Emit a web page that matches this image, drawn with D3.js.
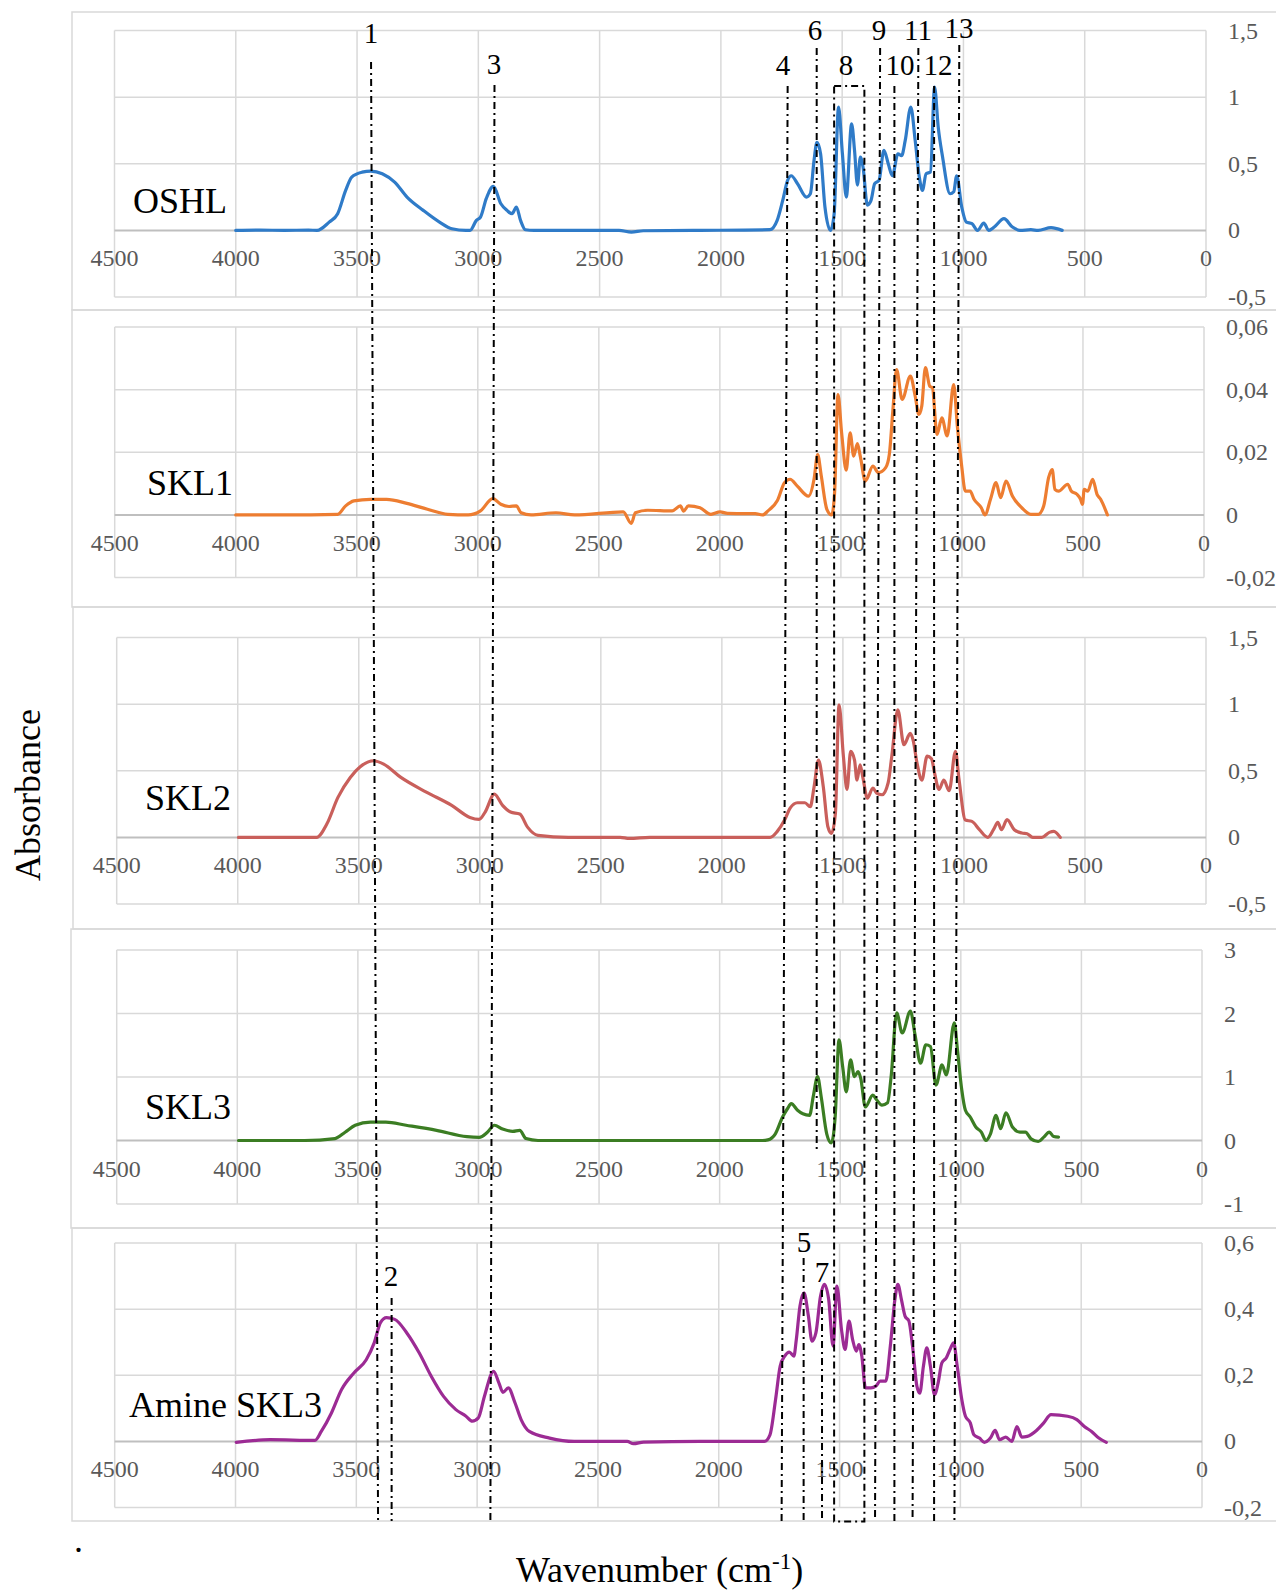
<!DOCTYPE html>
<html><head><meta charset="utf-8">
<script src="https://cdn.jsdelivr.net/npm/d3@7"></script>
<style>body{margin:0;background:#fff}svg{display:block}</style>
</head><body>
<svg id="chart" width="1276" height="1592"></svg>
<script>
// ---------------- DATA ----------------
const seriesNames = ["OSHL", "SKL1", "SKL2", "SKL3", "Amine SKL3"];
const xTicks = [4500, 4000, 3500, 3000, 2500, 2000, 1500, 1000, 500, 0];
const xTickLabels = ["4500", "4000", "3500", "3000", "2500", "2000", "1500", "1000", "500", "0"];

const yTicksOSHL = [-0.5, 0, 0.5, 1, 1.5];
const yLabelsOSHL = ["-0,5", "0", "0,5", "1", "1,5"];
const yTicksSKL1 = [-0.02, 0, 0.02, 0.04, 0.06];
const yLabelsSKL1 = ["-0,02", "0", "0,02", "0,04", "0,06"];
const yTicksSKL2 = [-0.5, 0, 0.5, 1, 1.5];
const yLabelsSKL2 = ["-0,5", "0", "0,5", "1", "1,5"];
const yTicksSKL3 = [-1, 0, 1, 2, 3];
const yLabelsSKL3 = ["-1", "0", "1", "2", "3"];
const yTicksAmine = [-0.2, 0, 0.2, 0.4, 0.6];
const yLabelsAmine = ["-0,2", "0", "0,2", "0,4", "0,6"];

// spectra: [wavenumber cm-1, absorbance]
const oshl = [[4000,0],[3900,0.002],[3800,0],[3700,0.002],[3665,0],[3615,0.062],[3580,0.125],[3547,0.30],[3522,0.40],[3479,0.437],[3443,0.445],[3396,0.425],[3345,0.362],[3294,0.25],[3227,0.15],[3160,0.062],[3109,0.012],[3051,0],[3034,0],[3008,0.075],[2991,0.1],[2967,0.24],[2938,0.33],[2907,0.20],[2882,0.15],[2861,0.125],[2843,0.175],[2826,0.075],[2806,0.005],[2770,0],[2420,0],[2369,-0.013],[2320,-0.003],[2086,0],[1798,0.005],[1768,0.075],[1745,0.225],[1725,0.375],[1710,0.41],[1684,0.35],[1647,0.25],[1631,0.275],[1616,0.525],[1604,0.66],[1589,0.575],[1571,0.175],[1548,0],[1533,0.125],[1515,0.925],[1499,0.575],[1483,0.25],[1461,0.80],[1449,0.60],[1437,0.34],[1425,0.55],[1414,0.475],[1396,0.19],[1381,0.225],[1366,0.35],[1348,0.375],[1328,0.60],[1310,0.50],[1293,0.41],[1270,0.575],[1255,0.56],[1240,0.675],[1217,0.925],[1199,0.675],[1182,0.40],[1169,0.30],[1154,0.425],[1136,0.4375],[1119,1.075],[1104,0.775],[1086,0.55],[1055,0.275],[1040,0.29],[1028,0.41],[1007,0.175],[988,0.0625],[965,0.05],[942,0],[916,0.055],[896,0],[873,0.025],[833,0.0875],[798,0.025],[767,0],[722,0.005],[692,0],[639,0.02],[593,0]];

const skl1 = [[4000,0],[3800,0],[3579,0.0002],[3546,0.0029],[3512,0.0045],[3444,0.005],[3377,0.005],[3293,0.0037],[3208,0.0018],[3124,0.0002],[3040,0],[2989,0.0013],[2938,0.0052],[2905,0.0034],[2871,0.0027],[2841,0.0029],[2821,0.0007],[2780,0],[2677,0.0007],[2600,0],[2399,0.001],[2366,-0.0027],[2349,0.0007],[2298,0.0015],[2197,0.0013],[2163,0.0029],[2150,0.0012],[2130,0.0029],[2082,0.0023],[2037,0.0002],[1999,0.001],[1968,0.0005],[1854,0.0004],[1824,0],[1801,0.0013],[1763,0.0045],[1733,0.0103],[1710,0.0114],[1680,0.0092],[1634,0.006],[1611,0.0114],[1596,0.0193],[1581,0.0124],[1558,0.0018],[1538,0],[1526,0.0071],[1512,0.0384],[1497,0.0262],[1478,0.0143],[1462,0.0262],[1447,0.0188],[1432,0.0228],[1420,0.0188],[1399,0.0108],[1368,0.0156],[1345,0.0135],[1315,0.0151],[1300,0.0193],[1285,0.0337],[1270,0.0464],[1247,0.0369],[1213,0.0443],[1193,0.0379],[1178,0.0321],[1166,0.0347],[1151,0.047],[1133,0.0411],[1122,0.0406],[1103,0.0257],[1083,0.031],[1061,0.0252],[1034,0.0416],[1019,0.0284],[1001,0.0156],[986,0.0076],[966,0.0076],[950,0.005],[920,0.0023],[905,0],[882,0.005],[859,0.0103],[840,0.0055],[818,0.0108],[791,0.006],[753,0.0023],[715,0.0002],[685,0.0002],[662,0.0029],[642,0.0119],[627,0.0145],[616,0.0082],[601,0.0076],[563,0.0098],[548,0.0076],[525,0.0066],[510,0.005],[502,0.0034],[495,0.0082],[480,0.0076],[460,0.0114],[442,0.0066],[427,0.005],[399,0]];

const skl2 = [[3997,0],[3674,0],[3632,0.1],[3586,0.3],[3535,0.45],[3494,0.53],[3439,0.575],[3397,0.55],[3326,0.45],[3221,0.34],[3116,0.24],[3041,0.15],[3003,0.135],[2978,0.19],[2940,0.325],[2906,0.24],[2873,0.19],[2835,0.175],[2802,0.075],[2760,0.015],[2634,0],[2420,0],[2382,-0.008],[2298,0],[1801,0],[1771,0.045],[1741,0.13],[1718,0.22],[1688,0.26],[1657,0.26],[1635,0.23],[1619,0.38],[1601,0.58],[1581,0.38],[1562,0.08],[1547,0.03],[1531,0.18],[1516,0.995],[1498,0.61],[1483,0.36],[1468,0.645],[1452,0.58],[1442,0.43],[1429,0.545],[1417,0.445],[1399,0.295],[1376,0.37],[1361,0.3325],[1338,0.32],[1313,0.41],[1298,0.61],[1273,0.9575],[1248,0.695],[1222,0.78],[1210,0.73],[1194,0.56],[1174,0.43],[1152,0.61],[1134,0.59],[1121,0.48],[1103,0.36],[1083,0.43],[1061,0.35],[1035,0.645],[1020,0.43],[994,0.13],[967,0.12],[936,0.0575],[901,0],[878,0.0575],[860,0.1125],[845,0.0575],[822,0.1325],[792,0.0575],[761,0.0325],[739,0.0275],[716,0],[678,0],[647,0.0375],[629,0.045],[602,0]];

const skl3 = [[3995,0],[3721,0],[3595,0.03],[3553,0.13],[3511,0.24],[3448,0.29],[3384,0.29],[3300,0.24],[3174,0.16],[3048,0.06],[2997,0.05],[2963,0.13],[2934,0.24],[2900,0.18],[2858,0.145],[2829,0.16],[2803,0.03],[2753,0],[1822,0],[1800,0.01],[1769,0.106],[1739,0.37],[1719,0.50],[1703,0.58],[1677,0.476],[1655,0.42],[1627,0.397],[1612,0.69],[1594,1.005],[1579,0.69],[1556,0.106],[1537,-0.037],[1521,0.37],[1505,1.587],[1490,1.164],[1475,0.767],[1457,1.27],[1441,1.005],[1426,1.085],[1415,0.979],[1396,0.529],[1365,0.714],[1350,0.645],[1327,0.556],[1304,0.593],[1289,1.005],[1266,2.01],[1243,1.693],[1209,2.037],[1190,1.667],[1167,1.217],[1145,1.508],[1126,1.481],[1103,0.873],[1078,1.19],[1060,1.032],[1027,1.852],[1014,1.429],[996,0.794],[981,0.476],[961,0.37],[938,0.212],[915,0.132],[896,0],[877,0.106],[854,0.397],[835,0.185],[813,0.434],[786,0.212],[755,0.132],[732,0.132],[709,0.026],[679,-0.016],[656,0.053],[633,0.132],[615,0.063],[595,0.053]];

const amineSkl3 = [[3997,-0.003],[3856,0.005],[3671,0.003],[3645,0.03],[3603,0.086],[3561,0.157],[3510,0.207],[3459,0.247],[3426,0.298],[3400,0.359],[3375,0.374],[3341,0.369],[3291,0.328],[3240,0.268],[3190,0.197],[3139,0.136],[3088,0.096],[3046,0.076],[3020,0.061],[2995,0.071],[2970,0.136],[2932,0.212],[2910,0.177],[2893,0.148],[2871,0.162],[2843,0.116],[2818,0.066],[2784,0.03],[2700,0.01],[2598,0],[2379,0],[2353,-0.007],[2311,-0.002],[2078,0],[1811,0],[1788,0.02],[1765,0.126],[1746,0.227],[1727,0.258],[1708,0.27],[1689,0.258],[1679,0.308],[1664,0.409],[1647,0.449],[1629,0.379],[1614,0.303],[1598,0.328],[1579,0.439],[1563,0.475],[1545,0.429],[1527,0.288],[1511,0.47],[1492,0.338],[1477,0.278],[1461,0.364],[1446,0.308],[1431,0.273],[1420,0.293],[1408,0.258],[1393,0.162],[1370,0.162],[1350,0.167],[1332,0.182],[1309,0.182],[1290,0.288],[1271,0.429],[1259,0.475],[1244,0.429],[1229,0.379],[1213,0.364],[1198,0.288],[1180,0.167],[1168,0.146],[1153,0.227],[1139,0.283],[1124,0.227],[1107,0.141],[1092,0.177],[1077,0.237],[1058,0.253],[1043,0.278],[1028,0.298],[1013,0.227],[994,0.126],[979,0.076],[959,0.056],[944,0.02],[921,0.01],[901,-0.003],[876,0.01],[856,0.033],[838,0.005],[812,0.013],[787,0],[766,0.045],[746,0.013],[723,0.015],[685,0.033],[655,0.056],[625,0.081],[556,0.076],[518,0.066],[487,0.045],[457,0.03],[427,0.01],[396,-0.003]];

// peak annotation lines (wavenumber at top end, at bottom end)
const peakLabels = ["1","2","3","4","5","6","7","9","10","11","12","13"];
const peakTopWn  = [3441,3356,2931,1720,1654,1600,1578,1338,1279,1180,1115,1011];
const peakBotWn  = [3412,3356,2948,1745,1654,1600,1578,1359,1279,1204,1115,1031];
const boxLabel = "8";
const boxWn = [1528, 1403];

// ---------------- LAYOUT ----------------
const W = 1276, H = 1592;
const colors = ["#2f7bc8", "#ed7d31", "#c95f5b", "#3b7d23", "#9c2b94"];
const seriesData = [oshl, skl1, skl2, skl3, amineSkl3];
const yTickSets = [yTicksOSHL, yTicksSKL1, yTicksSKL2, yTicksSKL3, yTicksAmine];
const yLabelSets = [yLabelsOSHL, yLabelsSKL1, yLabelsSKL2, yLabelsSKL3, yLabelsAmine];
const layout = [
  {outer:[12,310],  left:72, plot:[30.5,297],  x:[114.5,1206], lab:[133,213]},
  {outer:[310,607], left:72, plot:[327,577.6], x:[114.7,1204], lab:[147,495]},
  {outer:[607,929], left:73, plot:[637.5,904], x:[116.7,1206], lab:[145,810]},
  {outer:[929,1228],left:71, plot:[950,1204],  x:[116.7,1202], lab:[145,1119]},
  {outer:[1228,1521],left:72,plot:[1243,1507.5],x:[114.7,1202],lab:[129,1417]}
];
const serif = "'Liberation Serif','Times New Roman',serif";

const svg = d3.select("#chart");
svg.append("rect").attr("width", W).attr("height", H).attr("fill", "#fff");

layout.forEach((L, i) => {
  const g = svg.append("g");
  const ticks = yTickSets[i];
  const x = d3.scaleLinear().domain([4500, 0]).range(L.x);
  const y = d3.scaleLinear().domain([ticks[0], ticks[ticks.length-1]]).range([L.plot[1], L.plot[0]]);

  g.append("rect").attr("x", L.left).attr("y", L.outer[0])
    .attr("width", W + 20 - L.left).attr("height", L.outer[1] - L.outer[0])
    .attr("fill", "none").attr("stroke", "#d9d9d9").attr("stroke-width", 1.5);

  g.selectAll(".vg").data(xTicks).join("line")
    .attr("x1", d => x(d)).attr("x2", d => x(d))
    .attr("y1", L.plot[0]).attr("y2", L.plot[1])
    .attr("stroke", "#d9d9d9").attr("stroke-width", 1.5);
  g.selectAll(".hg").data(ticks).join("line")
    .attr("x1", L.x[0]).attr("x2", L.x[1])
    .attr("y1", d => y(d)).attr("y2", d => y(d))
    .attr("stroke", d => d === 0 ? "#bfbfbf" : "#d9d9d9").attr("stroke-width", d => d === 0 ? 2 : 1.5);

  g.selectAll(".xl").data(xTicks).join("text")
    .attr("x", (d) => x(d)).attr("y", y(0) + 36)
    .attr("text-anchor", "middle").attr("font-family", serif).attr("font-size", 24)
    .attr("fill", "#595959").text((d, k) => xTickLabels[k]);
  g.selectAll(".yl").data(ticks).join("text")
    .attr("x", L.x[1] + 22).attr("y", d => y(d) + 8)
    .attr("font-family", serif).attr("font-size", 24)
    .attr("fill", "#595959").text((d, k) => yLabelSets[i][k]);

  const line = d3.line().x(d => x(d[0])).y(d => y(d[1])).curve(d3.curveMonotoneX);
  g.append("path").datum(seriesData[i]).attr("d", line)
    .attr("fill", "none").attr("stroke", colors[i]).attr("stroke-width", 3.2)
    .attr("stroke-linejoin", "round").attr("stroke-linecap", "round");

  g.append("text").attr("x", L.lab[0]).attr("y", L.lab[1])
    .attr("font-family", serif).attr("font-size", 36).attr("fill", "#000")
    .text(seriesNames[i]);
});

// ---------------- ANNOTATIONS ----------------
const xa = d3.scaleLinear().domain([4500, 0]).range([114.7, 1204]);
// vertical extents of each annotation line and label positions (layout)
const annY = {
  "1": {y1:62, y2:1521, ly:43, lx:371},
  "2": {y1:1298, y2:1521, ly:1286, lx:391},
  "3": {y1:85, y2:1521, ly:74, lx:494},
  "4": {y1:86, y2:1521, ly:75, lx:783},
  "5": {y1:1258, y2:1521, ly:1252, lx:804},
  "6": {y1:48, y2:1150, ly:40, lx:815},
  "7": {y1:1290, y2:1521, ly:1282, lx:822},
  "9": {y1:48, y2:1521, ly:40, lx:879},
  "10": {y1:86, y2:1521, ly:75, lx:900},
  "11": {y1:48, y2:1521, ly:40, lx:918},
  "12": {y1:86, y2:1521, ly:75, lx:938},
  "13": {y1:45, y2:1521, ly:38, lx:959}
};
const dash = "7,4,2,4";
const ann = svg.append("g");
peakLabels.forEach((lab, k) => {
  const a = annY[lab];
  ann.append("line")
    .attr("x1", xa(peakTopWn[k])).attr("x2", xa(peakBotWn[k]))
    .attr("y1", a.y1).attr("y2", a.y2)
    .attr("stroke", "#000").attr("stroke-width", 2).attr("stroke-dasharray", dash);
  ann.append("text").attr("x", a.lx).attr("y", a.ly)
    .attr("text-anchor", "middle").attr("font-family", serif).attr("font-size", 29)
    .attr("fill", "#000").text(lab);
});
ann.append("rect")
  .attr("x", xa(boxWn[0])).attr("y", 86)
  .attr("width", xa(boxWn[1]) - xa(boxWn[0])).attr("height", 1521.5 - 86)
  .attr("fill", "none").attr("stroke", "#000").attr("stroke-width", 2).attr("stroke-dasharray", dash);
ann.append("text").attr("x", 846).attr("y", 75).attr("text-anchor", "middle")
  .attr("font-family", serif).attr("font-size", 29).text(boxLabel);

// ---------------- AXIS TITLES ----------------
svg.append("text").attr("transform", "translate(40,795) rotate(-90)")
  .attr("text-anchor", "middle").attr("font-family", serif).attr("font-size", 36)
  .attr("fill", "#000").text("Absorbance");
const xt = svg.append("text").attr("x", 516).attr("y", 1582)
  .attr("font-family", serif).attr("font-size", 36).attr("fill", "#000");
xt.append("tspan").text("Wavenumber (cm");
xt.append("tspan").attr("dy", -13).attr("font-size", 23).text("-1");
xt.append("tspan").attr("dy", 13).text(")");
svg.append("text").attr("x", 74).attr("y", 1552).attr("font-family", serif)
  .attr("font-size", 36).text(".");
</script>
</body></html>
